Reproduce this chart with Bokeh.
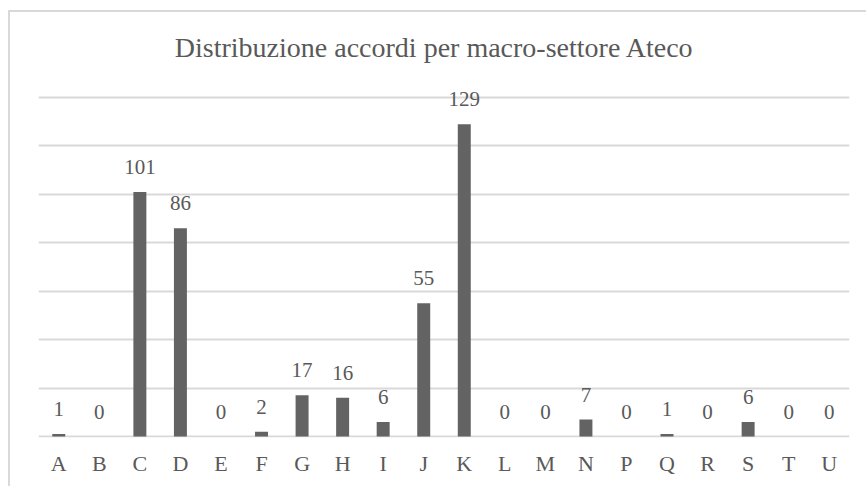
from bokeh.plotting import figure
from bokeh.models import ColumnDataSource, Range1d, FactorRange, LabelSet, Label
from bokeh.embed import file_html
from bokeh.resources import INLINE

categories = ["A", "B", "C", "D", "E", "F", "G", "H", "I", "J",
              "K", "L", "M", "N", "P", "Q", "R", "S", "T", "U"]
values = [1, 0, 101, 86, 0, 2, 17, 16, 6, 55,
          129, 0, 0, 7, 0, 1, 0, 6, 0, 0]
y_ticks = [0, 20, 40, 60, 80, 100, 120, 140]
title_text = "Distribuzione accordi per macro-settore Ateco"

FONT = "Liberation Serif"
TEXT = "#595959"
GRID = "#d9d9d9"
BAR = "#636363"

src = ColumnDataSource(dict(cat=categories, val=values,
                            lab=[str(v) for v in values]))

# frame extends up to the top of the chart area so that the title and the
# data labels above the tallest bar are not clipped; gridlines stop at 140
p = figure(x_range=FactorRange(factors=categories, range_padding=0),
           y_range=Range1d(-0.41, 174.3),
           width=858, height=476, output_backend="svg", toolbar_location=None,
           min_border_left=28, min_border_right=19, min_border_top=2,
           min_border_bottom=51)

p.vbar(x="cat", top="val", width=0.32, source=src, fill_color=BAR,
       line_color=None)

labels = LabelSet(x="cat", y="val", text="lab", source=src,
                  text_align="center", text_baseline="alphabetic",
                  y_offset=18, text_font=FONT, text_font_size="21px",
                  text_color=TEXT)
p.add_layout(labels)

title = Label(x=396, y=390, x_units="screen", y_units="screen",
              text=title_text, text_align="center", text_baseline="alphabetic",
              text_font=FONT, text_font_size="28px", text_color=TEXT)
p.add_layout(title)

p.yaxis.visible = False
p.xaxis.axis_line_color = None
p.xaxis.major_tick_line_color = None
p.xaxis.major_tick_out = 0
p.xaxis.major_tick_in = 0
p.xaxis.minor_tick_line_color = None
p.xaxis.major_label_text_font = FONT
p.xaxis.major_label_text_font_size = "22px"
p.xaxis.major_label_text_color = TEXT
p.xaxis.major_label_standoff = 13

p.xgrid.grid_line_color = None
p.ygrid.grid_line_color = GRID
p.ygrid.grid_line_width = 2
p.yaxis.ticker = y_ticks
p.outline_line_color = None

p.styles = {"border-top": "2px solid #d9d9d9", "border-left": "2px solid #d9d9d9",
            "margin-top": "10px", "margin-left": "8px"}

open("out.html", "w").write(file_html(p, INLINE))
